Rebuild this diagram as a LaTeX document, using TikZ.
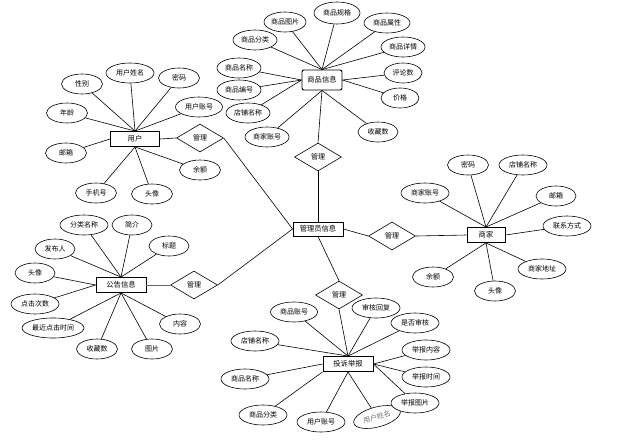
\documentclass[tikz,border=0pt]{standalone}
\usepackage{fontspec}
\setmainfont{Noto Sans CJK SC}
\usetikzlibrary{shapes.geometric}
\tikzset{
  attr/.style={ellipse,draw,line width=0.6pt,minimum width=44pt,minimum height=20pt,inner sep=0.5pt,font=\fontsize{7}{8}\selectfont,fill=white},
  ent/.style={rectangle,draw,line width=0.9pt,minimum width=50pt,minimum height=15pt,inner sep=1pt,font=\fontsize{7.3}{8}\selectfont,fill=white},
  rel/.style={diamond,draw,line width=0.6pt,minimum width=47pt,minimum height=28pt,inner sep=0pt,font=\fontsize{7}{8}\selectfont,fill=white},
  conn/.style={line width=0.6pt}
}
\begin{document}
\begin{tikzpicture}[x=1pt,y=-1pt]
\useasboundingbox (0,0) rectangle (626,439);
% entities
\node[ent,rounded corners=2pt,minimum width=40pt,minimum height=20pt] (goods) at (322,80) {商品信息};
\node[ent,minimum height=14pt] (admin) at (318,229) {管理员信息};
\node[ent,minimum width=38pt] (merchant) at (486,235) {商家};
\node[ent,minimum width=49pt] (user) at (135,139) {用户};
\node[ent] (notice) at (121,285) {公告信息};
\node[ent] (comp) at (348,364) {投诉举报};
% relationships
\node[rel] (dg) at (318,157) {管理};
\node[rel] (dm) at (392,236) {管理};
\node[rel] (du) at (200,138) {管理};
\node[rel] (dn) at (194,285) {管理};
\node[rel] (dc) at (339,295) {管理};
% goods attributes
\node[attr,minimum width=42pt] (g1) at (285,22) {商品图片};
\node[attr,minimum width=46pt,minimum height=22pt] (g2) at (337,13) {商品规格};
\node[attr,minimum width=46pt] (g3) at (387,23) {商品属性};
\node[attr] (g4) at (403,47) {商品详情};
\node[attr,minimum width=38pt] (g5) at (403,73) {评论数};
\node[attr,minimum width=38pt] (g6) at (400,98) {价格};
\node[attr,minimum width=40pt] (g7) at (378,132) {收藏数};
\node[attr] (g8) at (267,137) {商家账号};
\node[attr] (g9) at (248,113) {店铺名称};
\node[attr] (g10) at (239,90) {商品编号};
\node[attr] (g11) at (239,68) {商品名称};
\node[attr] (g12) at (255,40) {商品分类};
% user attributes
\node[attr,minimum width=41pt] (u1) at (82,84) {性别};
\node[attr,minimum width=48pt] (u2) at (130,73) {用户姓名};
\node[attr,minimum width=41pt] (u3) at (179,78) {密码};
\node[attr,minimum width=47pt] (u4) at (199,107) {用户账号};
\node[attr,minimum width=41pt] (u5) at (67,113) {年龄};
\node[attr,minimum width=41pt] (u6) at (66,153) {邮箱};
\node[attr,minimum width=41pt] (u7) at (96,193) {手机号};
\node[attr,minimum width=41pt] (u8) at (152,194) {头像};
\node[attr,minimum width=41pt] (u9) at (200,170) {余额};
% notice attributes
\node[attr,minimum width=48pt] (n1) at (84,225) {分类名称};
\node[attr,minimum width=40pt] (n2) at (132,225) {简介};
\node[attr,minimum width=40pt] (n3) at (55,249) {发布人};
\node[attr,minimum width=40pt] (n4) at (169,246) {标题};
\node[attr,minimum width=40pt] (n5) at (35,273) {头像};
\node[attr,minimum width=48pt] (n6) at (35,304) {点击次数};
\node[attr,minimum width=62pt] (n7) at (53,328) {最近点击时间};
\node[attr,minimum width=41pt] (n8) at (97,349) {收藏数};
\node[attr,minimum width=41pt] (n9) at (152,349) {图片};
\node[attr,minimum width=41pt] (n10) at (180,324) {内容};
% merchant attributes
\node[attr,minimum width=41pt] (m1) at (468,165) {密码};
\node[attr,minimum width=48pt] (m2) at (523,165) {店铺名称};
\node[attr,minimum width=48pt] (m3) at (425,193) {商家账号};
\node[attr,minimum width=40pt] (m4) at (556,196) {邮箱};
\node[attr,minimum width=48pt] (m5) at (567,226) {联系方式};
\node[attr,minimum width=48pt] (m6) at (542,269) {商家地址};
\node[attr,minimum width=41pt] (m7) at (495,291) {头像};
\node[attr,minimum width=41pt] (m8) at (433,277) {余额};
% complaint attributes
\node[attr,minimum width=47pt] (c1) at (294,312) {商品账号};
\node[attr,minimum width=48pt] (c2) at (255,341) {店铺名称};
\node[attr,minimum width=48pt] (c3) at (245,379) {商品名称};
\node[attr,minimum width=48pt] (c4) at (263,415) {商品分类};
\node[attr,minimum width=48pt] (c5) at (321,422) {用户账号};
\node[attr,minimum width=48pt,rotate=15,text=black!55] (c6) at (377,417) {用户姓名};
\node[attr,minimum width=48pt] (c7) at (415,403) {举报图片};
\node[attr,minimum width=48pt] (c8) at (426,377) {举报时间};
\node[attr,minimum width=48pt] (c9) at (426,350) {举报内容};
\node[attr,minimum width=48pt] (c10) at (415,323) {是否审核};
\node[attr,minimum width=48pt] (c11) at (376,308) {审核回复};
% connectors
\begin{scope}[conn]
\draw (goods.south) -- (dg.north);
\draw (dg.south) -- (admin.north);
\draw (admin.east) -- (dm.west);
\draw (dm.east) -- (merchant.west);
\draw (du.east) -- (admin.west);
\draw (user.east) -- (du.west);
\draw (dn.east) -- (admin.west);
\draw[line width=1pt,black!60] (notice.east) -- (dn.west);
\draw (admin.south) -- (dc.north);
\draw (dc.south) -- (comp.north);
\foreach \a in {g1,g2,g3,g4,g12} \draw (\a) -- (goods.north);
\foreach \a in {g5,g6} \draw (\a) -- (goods.east);
\foreach \a in {g7,g8} \draw (\a) -- (goods.south);
\foreach \a in {g9,g10,g11} \draw (\a) -- (goods.west);
\foreach \a in {u1,u2,u3,u4,u5} \draw (\a) -- (user.north);
\draw (u6) -- (user.west);
\foreach \a in {u7,u8,u9} \draw (\a) -- (user.south);
\foreach \a in {n1,n2,n3,n4} \draw (\a) -- (notice.north);
\foreach \a in {n5,n6} \draw (\a) -- (notice.west);
\foreach \a in {n7,n8,n9,n10} \draw (\a) -- (notice.south);
\foreach \a in {m1,m2,m3,m4} \draw (\a) -- (merchant.north);
\draw (m5) -- (merchant.east);
\foreach \a in {m6,m7,m8} \draw (\a) -- (merchant.south);
\foreach \a in {c1,c2,c10,c11} \draw (\a) -- (comp.north);
\draw (c3) -- (comp.west);
\draw (c4) -- (comp.south west);
\foreach \a in {c5,c6} \draw (\a) -- (comp.south);
\foreach \a in {c7,c8,c9} \draw (\a) -- (comp.east);
\end{scope}
\end{tikzpicture}
\end{document}
